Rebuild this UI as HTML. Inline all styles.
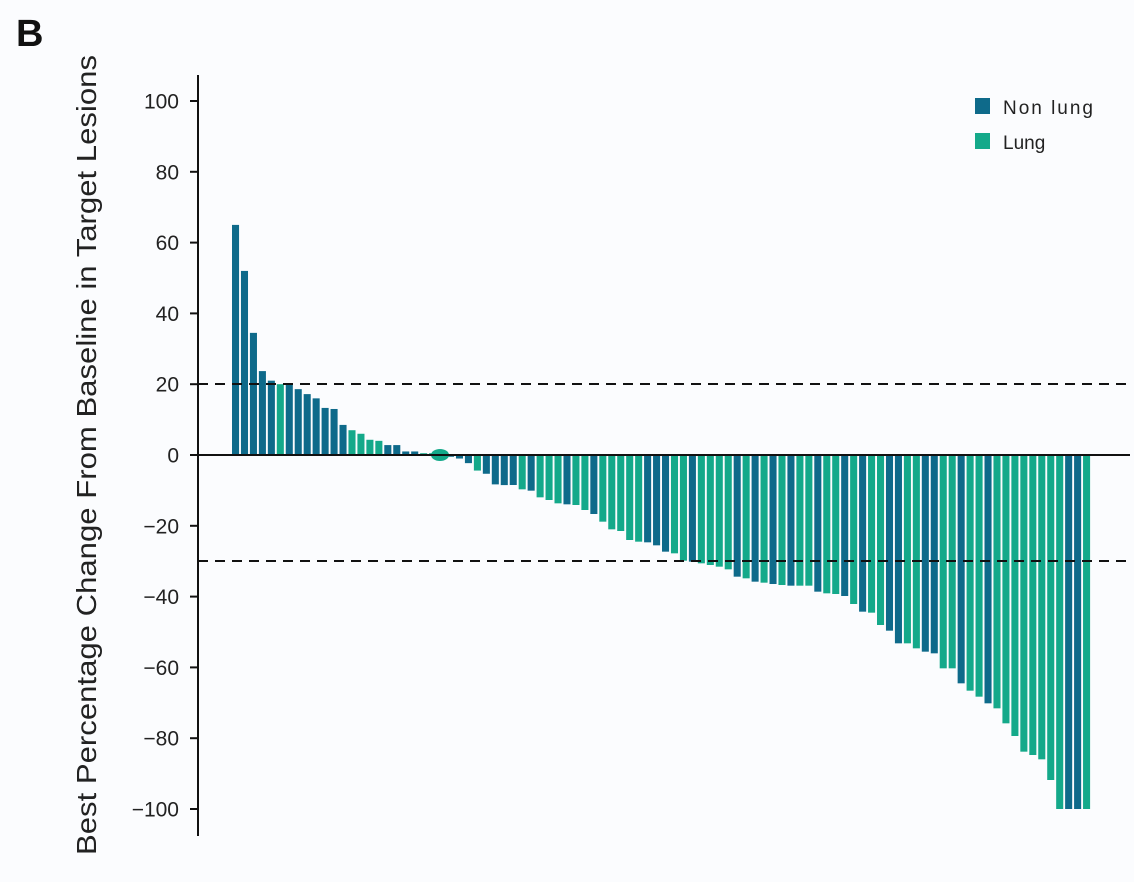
<!DOCTYPE html>
<html><head><meta charset="utf-8"><style>
html,body{margin:0;padding:0;background:#fbfcfe;}
svg{display:block;font-family:"Liberation Sans",sans-serif;}
</style></head><body>
<svg id="c" width="1134" height="882" viewBox="0 0 1134 882">
<rect width="1134" height="882" fill="#fbfcfe"/>
<text x="16" y="46" font-size="38" font-weight="bold" fill="#111">B</text>
<text transform="translate(96,455) rotate(-90)" text-anchor="middle" font-size="28" fill="#222" textLength="800" lengthAdjust="spacingAndGlyphs">Best Percentage Change From Baseline in Target Lesions</text>
<g id="bars"></g>
<line x1="198" y1="75" x2="198" y2="836" stroke="#111" stroke-width="2"/>
<line x1="198" y1="455" x2="1130" y2="455" stroke="#111" stroke-width="2"/>
<line x1="198" y1="384" x2="1130" y2="384" stroke="#111" stroke-width="2" stroke-dasharray="10,7"/>
<line x1="198" y1="561" x2="1130" y2="561" stroke="#111" stroke-width="2" stroke-dasharray="10,7"/>
<g id="ticks" font-size="21" fill="#222" text-anchor="end"></g>
<rect x="975" y="98" width="15" height="16" fill="#0e6a8a"/>
<rect x="975" y="133" width="15" height="16" fill="#14a98a"/>
<text x="1003" y="114" font-size="19" fill="#222" textLength="90">Non lung</text>
<text x="1003" y="149" font-size="19" fill="#222">Lung</text>
</svg>
<script>
var NS="http://www.w3.org/2000/svg";
function el(t,a,p){var e=document.createElementNS(NS,t);for(var k in a)e.setAttribute(k,a[k]);p.appendChild(e);return e;}
var tk=document.getElementById("ticks");
for(var v=100;v>=-100;v-=20){var y=455-v*3.54;
 el("line",{x1:190,y1:y,x2:198,y2:y,stroke:"#111","stroke-width":2},tk);
 var t=el("text",{x:179,y:y+7.5},tk);t.textContent=(v<0?"\u2212"+(-v):v);}
var vals=[65,52,34.5,23.7,21,20,20,18.6,17.2,16,13.3,13,8.5,7,6,4.3,4,2.8,2.8,1,1,0.5,0.5,-0.5,-0.5,-1,-2.3,-4.4,-5.3,-8.3,-8.5];
var cols="BBBBBGBBBBBBBGGGGBBBBGGBBBBGBBB";
var z2=[135,148,152,172,180,190,193,195,210,222,245,268,273,300,305,307,316,335,340,362,365,370,375,380,388,410,415,425,428,432,435,437,437];
cols+="BGBGGGBGGBGGGGGBBBGGBGGGGBGBGBGBG";
z2.forEach(function(p){vals.push((455-(440+p/3))/3.54);});
var z3=[437,455,460,462,468,492,515,518,555,572,610,610,625,635,640,685,685,730,752,770,790,805,850,888,935,945,958,1020,1108,1108,1108,1108];
cols+="GBGGBGBGGBBGGBBGGBGGBGGGGGGGGBBG";
z3.forEach(function(p){vals.push(Math.max(-100,(455-(440+p/3))/3.54));});
var g=document.getElementById("bars");
var pitch=(1092-232)/vals.length;
for(var i=0;i<vals.length;i++){
 var x=232+i*pitch,v=vals[i],y0=455,y1=455-v*3.54;
 var c=cols[i]=="B"?"#0e6a8a":"#14a98a";
 el("rect",{x:x,y:Math.min(y0,y1),width:pitch-1.9,height:Math.max(1.5,Math.abs(y1-y0)),fill:c},g);
}
el("ellipse",{cx:440,cy:455,rx:9,ry:6,fill:"#14a98a"},g);
</script>
</body></html>
